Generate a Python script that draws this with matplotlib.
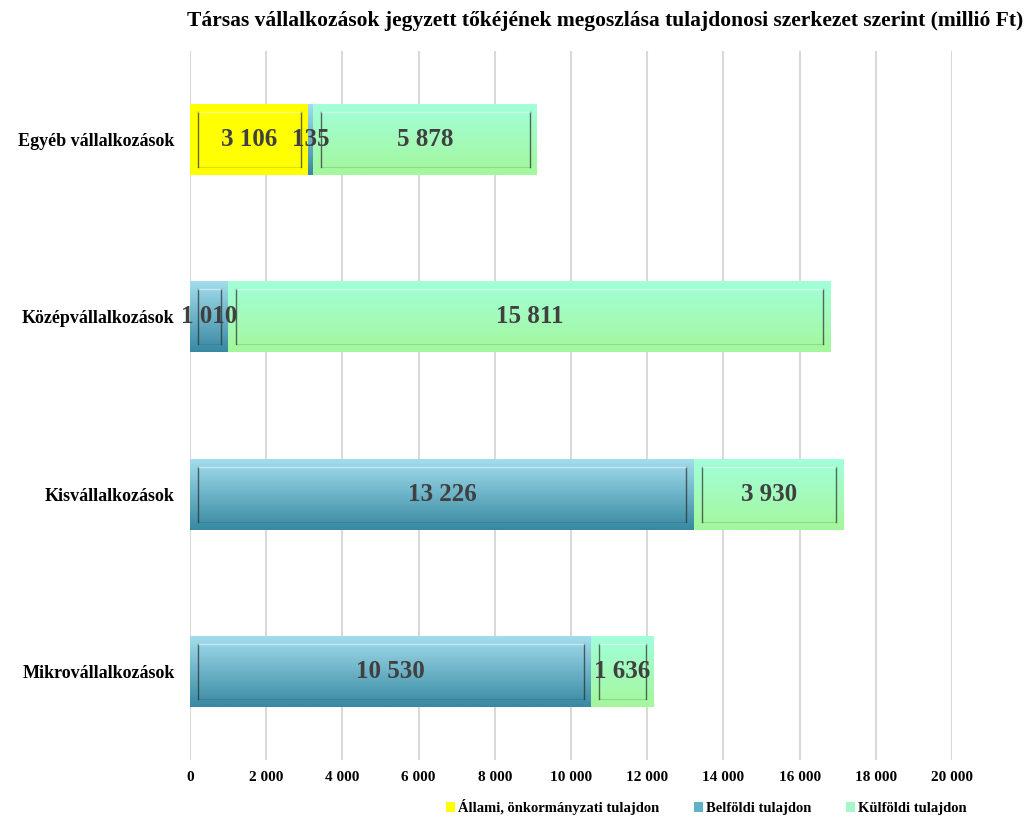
import matplotlib
matplotlib.use('Agg')
import matplotlib.pyplot as plt
import numpy as np
from matplotlib.patches import Patch
from matplotlib.colors import LinearSegmentedColormap

plt.rcParams['font.family'] = ['Liberation Serif', 'DejaVu Serif']
plt.rcParams['font.weight'] = 'bold'

categories = ['Egyéb vállalkozások', 'Középvállalkozások', 'Kisvállalkozások', 'Mikrovállalkozások']
series_names = ['Állami, önkormányzati tulajdon', 'Belföldi tulajdon', 'Külföldi tulajdon']
allami = [3106, 0, 0, 0]
belfoldi = [135, 1010, 13226, 10530]
kulfoldi = [5878, 15811, 3930, 1636]
xticks = [0, 2000, 4000, 6000, 8000, 10000, 12000, 14000, 16000, 18000, 20000]

# top / bottom colours of the vertical gradients
grad = [('#FFFF00', '#FFFF00'), ('#A2DDEC', '#3889A2'), ('#A2FFDA', '#A4F79C')]
legend_colors = ['#FFFF00', '#5FB1C8', '#A6F8C8']


def fmt(v):
    return f'{v:,}'.replace(',', ' ')


fig = plt.figure(figsize=(10.31, 8.16), dpi=100)
ax = fig.add_axes([0.1843, 0.0686, 0.7391, 0.8689])

y = np.arange(len(categories))
h = 0.4
left = np.zeros(len(categories))
for vals, (top, bot) in zip([allami, belfoldi, kulfoldi], grad):
    vals = np.array(vals, dtype=float)
    bars = ax.barh(y, vals, height=h, left=left, color='none', edgecolor='none', zorder=2)
    cmap = LinearSegmentedColormap.from_list('g', [top, bot])
    for b, v in zip(bars, vals):
        if v <= 0:
            continue
        x0, y0 = b.get_x(), b.get_y()
        w, hh = b.get_width(), b.get_height()
        im = ax.imshow(np.linspace(0, 1, 64).reshape(-1, 1), cmap=cmap, aspect='auto',
                       extent=[x0, x0 + w, y0 + hh, y0], zorder=2, interpolation='bilinear')
        im.set_clip_path(b)
        # inner bevel frame: dark sides, faint top/bottom
        ix, iy = 200, 0.045
        if w > 3 * ix:
            xl, xr = x0 + ix, x0 + w - ix
            yt, yb = y0 + iy, y0 + hh - iy
            ax.plot([xl, xl], [yt, yb], color='#2b2b2b', lw=1.0, alpha=0.7, zorder=3)
            ax.plot([xr, xr], [yt, yb], color='#2b2b2b', lw=1.0, alpha=0.7, zorder=3)
            ax.plot([xl, xr], [yt, yt], color='white', lw=1.0, alpha=0.45, zorder=3)
            ax.plot([xl, xr], [yb, yb], color='#2b2b2b', lw=0.8, alpha=0.15, zorder=3)
        ax.text(x0 + w / 2, y0 + hh / 2, fmt(int(v)), ha='center', va='center',
                fontsize=18, fontweight='bold', color='#404040', zorder=4)
    left += vals

ax.set_xlim(0, 20000)
ax.set_ylim(3.5, -0.5)
ax.set_xticks(xticks)
ax.set_xticklabels([fmt(t) for t in xticks], fontsize=11, fontweight='bold')
ax.set_yticks(y)
ax.set_yticklabels(categories, fontsize=13, fontweight='bold')
ax.tick_params(axis='x', length=0, pad=8)
ax.tick_params(axis='y', length=0, pad=11)
ax.grid(axis='x', color='#D9D9D9', lw=1.5, zorder=0)
ax.set_axisbelow(True)
for s in ax.spines.values():
    s.set_visible(False)

fig.text(0.587, 0.974, 'Társas vállalkozások jegyzett tőkéjének megoszlása tulajdonosi szerkezet szerint (millió Ft)',
         ha='center', va='center', fontsize=15.5, fontweight='bold')

handles = [Patch(facecolor=c, edgecolor='none') for c in legend_colors]
fig.legend(handles, series_names, loc='center', bbox_to_anchor=(0.685, 0.011), ncol=3, frameon=False,
           fontsize=10.5, handlelength=0.6, handleheight=0.6, handletextpad=0.2, columnspacing=2.4)

fig.savefig('out.png', dpi=100)
